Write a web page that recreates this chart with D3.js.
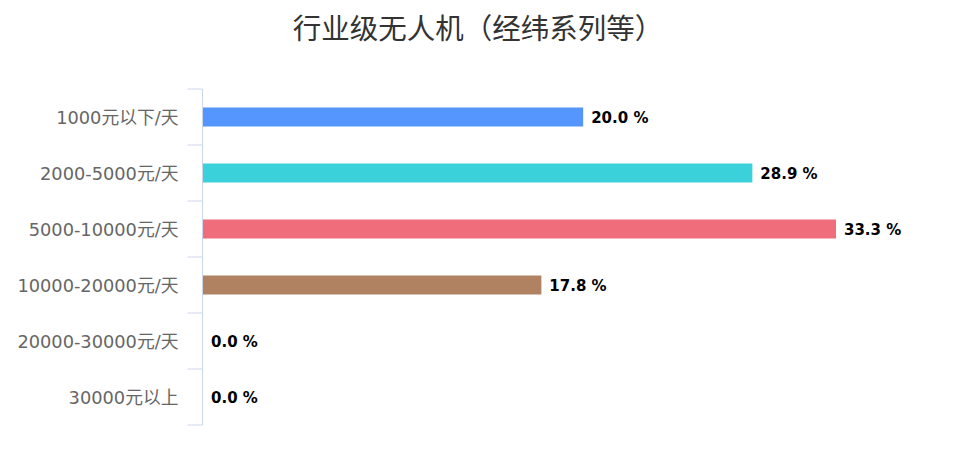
<!DOCTYPE html>
<html>
<head>
<meta charset="utf-8">
<script src="https://cdn.jsdelivr.net/npm/d3@7"></script>
<style>
  body { margin: 0; background: #fff; }
</style>
</head>
<body>
<div id="chart"></div>
<script>
// data
var categories = ["1000元以下/天", "2000-5000元/天", "5000-10000元/天", "10000-20000元/天", "20000-30000元/天", "30000元以上"];
var shares = [20.0, 28.9, 33.3, 17.8, 0.0, 0.0];
var barColors = ["#5596fe", "#3bd1da", "#f06e7b", "#b08261", "#8d6fd6", "#f7b84b"];
var title = "行业级无人机（经纬系列等）";

var width = 960, height = 449;

var svg = d3.select("#chart")
    .append("svg")
    .attr("width", width)
    .attr("height", height)
    .style("font-family", "'DejaVu Sans', 'Noto Sans CJK SC', sans-serif");

// title
svg.append("text")
    .attr("x", 478)
    .attr("y", 39)
    .attr("text-anchor", "middle")
    .attr("fill", "#333")
    .style("font-family", "'Noto Sans CJK SC', sans-serif")
    .style("font-size", "28.5px")
    .text(title);

// scales
var y = d3.scaleBand()
    .domain(categories)
    .range([89, 425])
    .paddingInner(0.66)
    .paddingOuter(0.33);

var x = d3.scaleLinear()
    .domain([0, 33.3])
    .range([203, 836]);

// category axis
var yAxis = d3.axisLeft(y)
    .tickSize(0)
    .tickPadding(24);

var gy = svg.append("g")
    .attr("transform", "translate(202.5,0)")
    .call(yAxis)
    .style("font-family", "'DejaVu Sans', 'Noto Sans CJK SC', sans-serif");

gy.select(".domain").remove();
gy.append("line")
    .attr("x1", 0).attr("x2", 0)
    .attr("y1", 89).attr("y2", 425)
    .attr("stroke", "#ccd6eb");

// tick marks between categories
var step = y.step();
gy.selectAll(".sep")
    .data(d3.range(categories.length + 1))
    .enter().append("line")
    .attr("class", "sep")
    .attr("x1", -15).attr("x2", 0)
    .attr("y1", function (d) { return 89 + d * step; })
    .attr("y2", function (d) { return 89 + d * step; })
    .attr("stroke", "#ccd6eb");

gy.selectAll(".tick text")
    .attr("fill", "#666")
    .attr("dy", "0.4em")
    .style("font-size", "17.8px");

// bars
svg.selectAll(".bar")
    .data(shares)
    .enter().append("rect")
    .attr("class", "bar")
    .attr("x", x(0))
    .attr("y", function (d, i) { return y(categories[i]) + (y.bandwidth() - 19) / 2; })
    .attr("width", function (d) { return x(d) - x(0); })
    .attr("height", 19)
    .attr("fill", function (d, i) { return barColors[i]; });

// value labels
svg.selectAll(".val")
    .data(shares)
    .enter().append("text")
    .attr("class", "val")
    .attr("x", function (d) { return x(d) + 8; })
    .attr("y", function (d, i) { return y(categories[i]) + y.bandwidth() / 2; })
    .attr("dy", "0.4em")
    .attr("fill", "#000")
    .style("font-weight", "bold")
    .style("font-size", "15px")
    .text(function (d) { return d.toFixed(1) + " %"; });
</script>
</body>
</html>
